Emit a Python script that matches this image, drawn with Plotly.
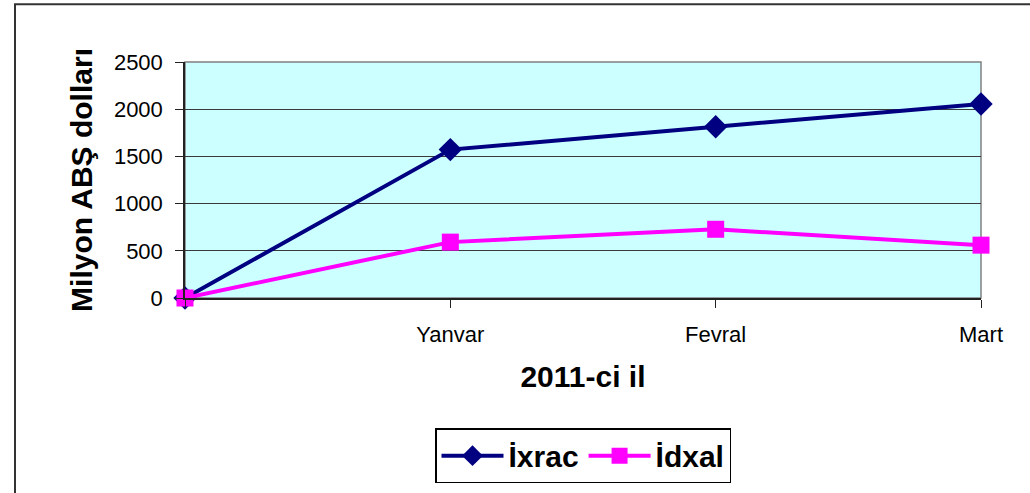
import plotly.graph_objects as go

categories = ["", "Yanvar", "Fevral", "Mart"]
ixrac = [0, 1572, 1814, 2055]
idxal = [0, 592, 728, 560]
y_ticks = [0, 500, 1000, 1500, 2000, 2500]

x_pos = list(range(len(categories)))

FONT = "Arial, Liberation Sans, sans-serif"

fig = go.Figure()
fig.add_trace(go.Scatter(
    x=x_pos, y=ixrac, name="<b>İxrac</b>", mode="lines+markers",
    line=dict(color="#000080", width=4),
    marker=dict(symbol="diamond", size=18, color="#000080"),
    cliponaxis=False,
))
fig.add_trace(go.Scatter(
    x=x_pos, y=idxal, name="<b>İdxal</b>", mode="lines+markers",
    line=dict(color="#FF00FF", width=4),
    marker=dict(symbol="square", size=17, color="#FF00FF"),
    cliponaxis=False,
))

fig.update_layout(
    width=1030, height=493,
    margin=dict(l=185, r=49, t=62, b=194),
    paper_bgcolor="white",
    plot_bgcolor="#CCFFFF",
    font=dict(family=FONT, color="black", size=22),
    xaxis=dict(
        range=[0, 3], tickmode="array", tickvals=x_pos, ticktext=categories,
        showgrid=False, zeroline=False, showline=True, linecolor="#222222", linewidth=1.5,
        ticks="outside", ticklen=8, tickcolor="#222222",
        tickfont=dict(size=22), ticklabelstandoff=8,
        title=dict(text="<b>2011-ci il</b>", font=dict(size=30), standoff=20),
    ),
    yaxis=dict(
        range=[0, 2500], tickmode="array", tickvals=y_ticks,
        showgrid=True, gridcolor="#3a3a3a", gridwidth=1, zeroline=False,
        showline=True, linecolor="#222222", linewidth=1.5,
        ticks="outside", ticklen=8, tickcolor="#222222",
        tickfont=dict(size=22), ticklabelstandoff=8,
        title=dict(text="<b>Milyon ABŞ dolları</b>", font=dict(size=30), standoff=12),
    ),
    legend=dict(
        orientation="h", x=0.5, xanchor="center", y=-0.545, yanchor="top",
        bordercolor="black", borderwidth=1.5, bgcolor="white",
        font=dict(size=30, family=FONT), itemwidth=62,
    ),
    showlegend=True,
)

# plot area border (top/right in gray)
fig.add_shape(type="rect", xref="paper", yref="paper", x0=0, x1=1, y0=0, y1=1,
              line=dict(color="#808080", width=1.5), layer="below")
# outer chart border
fig.add_shape(type="rect", xref="paper", yref="paper",
              x0=(15 - 185) / 796, x1=(1045 - 185) / 796,
              y0=(299 - 510) / 237, y1=(299 - 4) / 237,
              line=dict(color="#333333", width=2))

fig.write_html("out.html", config={"displayModeBar": False},
               post_script="document.body.style.margin='0';")
